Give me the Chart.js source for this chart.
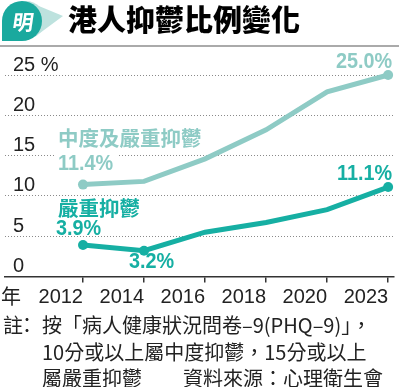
<!DOCTYPE html>
<html>
<head>
<meta charset="utf-8">
<script src="https://cdn.jsdelivr.net/npm/chart.js@4"></script>
<style>
  html, body { margin: 0; padding: 0; background: #fff; }
  #wrap { width: 399px; height: 387px; position: relative; }
</style>
</head>
<body>
<div id="wrap"><canvas id="chart"></canvas></div>
<script>
// ===== data =====
const years = ['2012', '2014', '2016', '2018', '2020', '2023'];
const moderateSevere = [11.4, 11.8, 14.6, 18.2, 22.9, 25.0];
const severe = [3.9, 3.2, 5.5, 6.7, 8.3, 11.1];
const yTicks = [0, 5, 10, 15, 20, 25];

const LIGHT = '#8ecbc5';
const DARK = '#16afa3';
const CJK = '"Noto Sans CJK TC", sans-serif';
const NUM = '"Liberation Sans", Arial, sans-serif';

// ===== helpers =====
function squeezed(ctx, txt, x, y, align, sx) {
  ctx.save();
  ctx.translate(x, y);
  ctx.scale(sx, 1);
  ctx.textAlign = align;
  ctx.fillText(txt, 0, 0);
  ctx.restore();
}

// ===== header, notes and point labels =====
const decor = {
  id: 'decor',
  beforeDraw(chart) {
    const ctx = chart.ctx;
    ctx.save();
    // logo bubble
    ctx.fillStyle = '#bde2de';
    ctx.beginPath();
    ctx.arc(26, 20, 19, 0, Math.PI * 2);
    ctx.fill();
    ctx.beginPath();
    ctx.moveTo(34, 4); ctx.lineTo(63, 16); ctx.lineTo(40, 33);
    ctx.closePath(); ctx.fill();
    ctx.fillStyle = '#1aa99e';
    ctx.beginPath();
    ctx.moveTo(2, 40);
    ctx.lineTo(2, 21);
    ctx.arc(22, 21, 20, Math.PI, Math.PI / 2);
    ctx.lineTo(2, 41);
    ctx.closePath(); ctx.fill();
    ctx.fillStyle = '#fff';
    ctx.font = 'bold 21px ' + CJK;
    ctx.textAlign = 'center';
    ctx.textBaseline = 'alphabetic';
    ctx.save();
    ctx.translate(22, 30);
    ctx.transform(1, 0, -0.15, 1, 0, 0);
    ctx.fillText('明', 0, 0);
    ctx.restore();

    // title
    ctx.textAlign = 'left';
    ctx.fillStyle = '#000';
    ctx.font = '900 29px ' + CJK;
    ctx.fillText('港人抑鬱比例變化', 68, 31);

    // rule
    ctx.fillStyle = '#aaaaaa';
    ctx.fillRect(0, 45, 399, 2);

    // axis unit + notes
    ctx.fillStyle = '#222';
    ctx.font = '20px ' + CJK;
    ctx.fillText('年', 1, 304);
    ctx.fillText('註', 3, 333);
    ctx.fillText('：', 17, 333);
    ctx.fillText('按「病人健康狀況問卷–9(PHQ–9)」，', 42, 333);
    ctx.fillText('10分或以上屬中度抑鬱，15分或以上', 42, 359.5);
    ctx.fillText('屬嚴重抑鬱', 42, 386);
    ctx.fillText('資料來源：心理衛生會', 183, 386);
    ctx.restore();
  },
  afterDatasetsDraw(chart) {
    const ctx = chart.ctx;
    const xs = chart.scales.x, ys = chart.scales.y;
    const px = i => xs.getPixelForValue(i);
    const py = v => ys.getPixelForValue(v);
    ctx.save();
    ctx.textBaseline = 'alphabetic';

    // moderate + severe
    let x0 = px(0), y0 = py(moderateSevere[0]);
    ctx.fillStyle = '#fff';
    ctx.fillRect(x0 - 28, y0 - 33, 62, 22);
    ctx.fillStyle = LIGHT;
    ctx.font = 'bold 20.5px ' + CJK;
    ctx.textAlign = 'left';
    ctx.fillText('中度及嚴重抑鬱', x0 - 25, y0 - 38.6);
    ctx.font = 'bold 22px ' + NUM;
    squeezed(ctx, moderateSevere[0].toFixed(1) + '%', x0 - 25, y0 - 14.6, 'left', 0.9);
    let x5 = px(5), y5 = py(moderateSevere[5]);
    squeezed(ctx, moderateSevere[5].toFixed(1) + '%', x5 + 4, y5 - 7, 'right', 0.9);

    // severe
    x0 = px(0); y0 = py(severe[0]);
    ctx.fillStyle = DARK;
    ctx.font = 'bold 20.5px ' + CJK;
    ctx.fillText('嚴重抑鬱', x0 - 25, y0 - 29);
    ctx.font = 'bold 22px ' + NUM;
    squeezed(ctx, severe[0].toFixed(1) + '%', x0 - 27, y0 - 10, 'left', 0.9);
    const x1 = px(1), y1 = py(severe[1]);
    squeezed(ctx, severe[1].toFixed(1) + '%', x1 - 15, y1 + 17.3, 'left', 0.9);
    x5 = px(5); y5 = py(severe[5]);
    squeezed(ctx, severe[5].toFixed(1) + '%', x5 + 4, y5 - 7, 'right', 0.9);
    ctx.restore();
  }
};

// ===== chart =====
const toPoints = arr => arr.map((v, i) => ({ x: i, y: v }));

new Chart(document.getElementById('chart'), {
  type: 'line',
  data: {
    datasets: [
      {
        label: '中度及嚴重抑鬱',
        data: toPoints(moderateSevere),
        borderColor: LIGHT,
        backgroundColor: LIGHT,
        borderWidth: 5,
        pointRadius: [5, 0, 0, 0, 0, 5],
        pointBorderWidth: 0,
        tension: 0,
        clip: false
      },
      {
        label: '嚴重抑鬱',
        data: toPoints(severe),
        borderColor: DARK,
        backgroundColor: DARK,
        borderWidth: 5,
        pointRadius: [5, 5, 0, 0, 0, 5],
        pointBorderWidth: 0,
        tension: 0,
        clip: false
      }
    ]
  },
  options: {
    responsive: true,
    maintainAspectRatio: false,
    animation: false,
    devicePixelRatio: 1,
    layout: { padding: { top: 75, left: 0, right: 0, bottom: 0 } },
    plugins: { legend: { display: false }, tooltip: { enabled: false } },
    scales: {
      x: {
        type: 'linear',
        min: -1.278,
        max: 5.096,
        afterBuildTicks: s => { s.ticks = years.map((y, i) => ({ value: i })); },
        afterFit: s => { s.height = 110.5; },
        border: { display: true, color: '#333', width: 1.5 },
        grid: { drawOnChartArea: false, drawTicks: true, tickLength: 6, color: '#333', lineWidth: 1.5 },
        ticks: {
          align: 'end',
          padding: 3,
          maxRotation: 0,
          autoSkip: false,
          color: '#222',
          font: { family: NUM, size: 20 },
          callback: v => years[v]
        }
      },
      y: {
        min: 0,
        max: 25,
        afterBuildTicks: s => { s.ticks = yTicks.map(v => ({ value: v })); },
        afterFit: s => { s.width = 0; },
        border: { display: false, dash: [1, 2] },
        grid: {
          drawTicks: false,
          lineWidth: 1,
          color: c => (c.tick && c.tick.value === 0 ? 'rgba(0,0,0,0)' : '#8a8a8a')
        },
        ticks: {
          mirror: true,
          padding: 8,
          labelOffset: -10,
          color: '#222',
          font: { family: NUM, size: 20 },
          callback: v => (v === 25 ? '25 %' : String(v))
        }
      }
    }
  },
  plugins: [decor]
});
</script>
</body>
</html>
